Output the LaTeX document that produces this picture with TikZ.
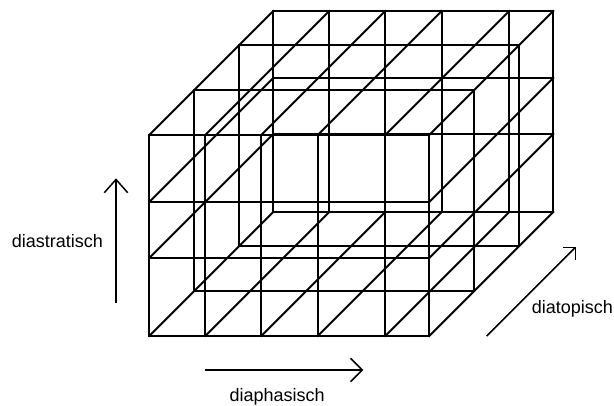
\documentclass[tikz,border=0pt]{standalone}
\usepackage{fontspec}
\setmainfont{Liberation Sans}
\usetikzlibrary{arrows.meta}
\begin{document}
\begin{tikzpicture}[
  x=1pt, y=1pt,
  gridline/.style={line width=2pt, line cap=rect},
  axisarrow/.style={line width=1.5pt},
  axislabel/.style={inner sep=0pt, font=\fontsize{18}{21}\selectfont}
]
\useasboundingbox (0,0) rectangle (614,405);

% the cube: X to the right, Y upwards, Z into depth (drawn at 45 degrees)
\begin{scope}[shift={(149.3,69)}, x={(1pt,0pt)}, y={(0pt,1pt)}, z={(1pt,1pt)}]
  \def\W{280}\def\H{201}\def\D{124}
  % front and back faces: full grids
  \foreach \zz in {0,\D}{
    \foreach \xx in {0,56,112,168.5,236,280}
      \draw[gridline] (\xx,0,\zz) -- (\xx,\H,\zz);
    \foreach \yy in {0,78,134,201}
      \draw[gridline] (0,\yy,\zz) -- (\W,\yy,\zz);
  }
  % edges running into depth on the top and bottom faces
  \foreach \xx in {0,56,112,168.5,236,280}{
    \draw[gridline] (\xx,0,0) -- (\xx,0,\D);
    \draw[gridline] (\xx,\H,0) -- (\xx,\H,\D);
  }
  % edges running into depth on the left and right faces
  \foreach \yy in {78,134}{
    \draw[gridline] (0,\yy,0) -- (0,\yy,\D);
    \draw[gridline] (\W,\yy,0) -- (\W,\yy,\D);
  }
  % two intermediate layers, outline only
  \foreach \zz in {45,90}
    \draw[gridline] (0,0,\zz) -- (\W,0,\zz) -- (\W,\H,\zz) -- (0,\H,\zz) -- cycle;
\end{scope}

% dimension arrows
\coordinate (vs) at (116,101.7);
\coordinate (ve) at (116,226.7);
\coordinate (hs) at (205,35);
\coordinate (he) at (363.3,35);
\coordinate (ds) at (486.7,69);
\coordinate (de) at (576,158.3);
\draw[axisarrow, -{Straight Barb[length=13.3pt,width=23.4pt]}] (vs) -- (ve);
\draw[axisarrow, -{Straight Barb[length=11.7pt,width=23.4pt]}] (hs) -- (he);
\draw[axisarrow, -{Straight Barb[length=9pt,width=18pt]}] (ds) -- (de);

\node[axislabel, anchor=base west] (lstrat) at (11.7,157.7) {diastratisch};
\node[axislabel, anchor=base west] (lphas) at (229.3,4) {diaphasisch};
\node[axislabel, anchor=base west] (ltop) at (531.7,91.7) {diatopisch};
\end{tikzpicture}
\end{document}
